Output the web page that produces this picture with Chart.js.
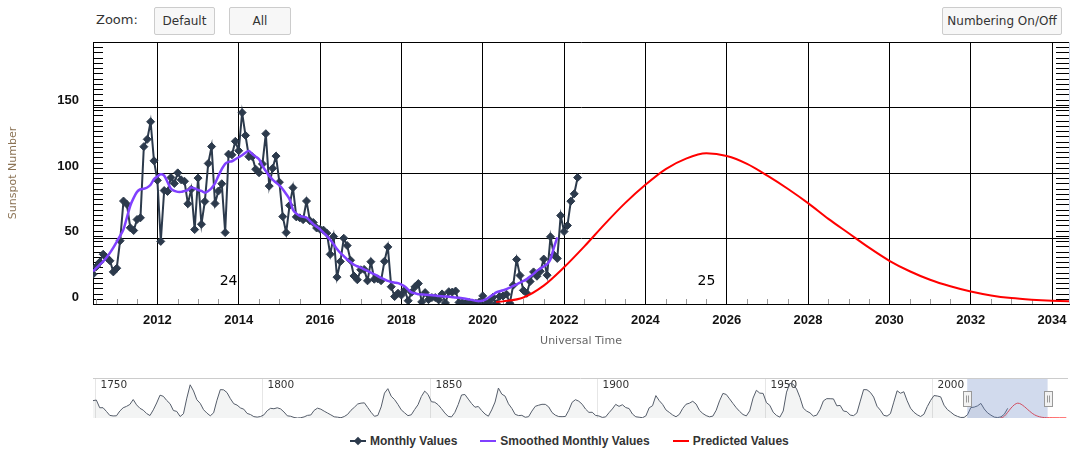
<!DOCTYPE html>
<html>
<head>
<meta charset="utf-8">
<script src="https://cdn.jsdelivr.net/npm/chart.js@4/dist/chart.umd.min.js"></script>
<style>
  body { margin: 0; background: #fff; width: 1081px; height: 452px; overflow: hidden; position: relative; font-family: "DejaVu Sans", sans-serif; }
  canvas { position: absolute; left: 0; }
  #mainChart { top: 0; }
  #navChart { top: 370px; }
  #zoomLabel { position: absolute; left: 96px; top: 12px; font-size: 13px; color: #333; }
  .btn { position: absolute; top: 7px; height: 28px; box-sizing: border-box; background: #f7f7f7; border: 1px solid #cccccc; border-radius: 2px; font-size: 12px; color: #333; display: flex; align-items: center; justify-content: center; }
  #legend { position: absolute; left: 350px; top: 433px; height: 16px; display: flex; align-items: center; font: bold 12px "Liberation Sans", sans-serif; color: #333; }
  #legend .item { display: flex; align-items: center; margin-right: 23px; }
  #legend .sym { position: relative; width: 16px; height: 2px; margin-right: 4px; }
  #legend .dia { position: absolute; left: 5px; top: -2px; width: 6px; height: 6px; transform: rotate(45deg); }
</style>
</head>
<body>
<div id="zoomLabel">Zoom:</div>
<div class="btn" style="left:154px; width:61px;">Default</div>
<div class="btn" style="left:229px; width:62px;">All</div>
<div class="btn" style="left:942px; width:120px;">Numbering On/Off</div>
<canvas id="mainChart" width="1081" height="360"></canvas>
<canvas id="navChart" width="1081" height="52"></canvas>
<div id="legend"></div>
<script>
// ---- data ----
var seriesNames = ['Monthly Values', 'Smoothed Monthly Values', 'Predicted Values'];
var seriesColors = ['#2c3a4c', '#8040ff', '#ff0000'];

// monthly sunspot numbers, Jun 2010 .. May 2022
var monthlyStart = [2010, 6];
var monthlyValues = [
  22.7, 28.5, 32.0, 38.0, 35.5, 33.0, 24.5,
  27.3, 48.3, 78.6, 76.1, 58.2, 56.1, 64.5, 65.8, 120.1, 125.7, 139.1, 109.3,
  94.4, 47.8, 86.6, 85.9, 96.5, 92.0, 100.1, 94.8, 93.7, 76.5, 87.6, 56.8,
  96.1, 60.9, 78.3, 107.3, 120.2, 76.7, 86.2, 91.8, 54.5, 114.4, 113.9, 124.2,
  117.0, 146.1, 128.7, 112.5, 112.5, 102.9, 100.2, 106.9, 130.0, 90.0, 103.6, 112.9,
  93.0, 66.7, 54.5, 75.3, 88.8, 66.5, 65.8, 64.4, 78.6, 63.6, 62.2, 58.0,
  57.0, 56.4, 54.1, 37.9, 51.5, 20.5, 32.4, 50.2, 44.6, 33.4, 21.4, 18.5,
  26.1, 26.4, 17.7, 32.3, 18.9, 19.2, 17.8, 32.6, 43.6, 13.2, 5.7, 8.2,
  6.8, 10.7, 2.5, 8.9, 13.1, 15.6, 1.6, 8.7, 3.3, 4.9, 4.9, 3.1,
  7.7, 0.8, 9.4, 9.1, 9.9, 1.2, 0.9, 0.5, 1.1, 0.4, 0.5, 1.5,
  6.2, 0.2, 1.5, 5.2, 0.2, 5.8, 6.1, 7.5, 0.6, 14.4, 34.0, 21.8,
  10.4, 8.2, 17.2, 24.5, 21.2, 25.0, 34.3, 22.0, 51.3, 37.4, 34.8, 67.5,
  55.3, 59.9, 78.5, 84.1, 96.5
];

// smoothed monthly values, Jun 2010 .. Nov 2021
var smoothedStart = [2010, 6];
var smoothedValues = [
  25, 27.5, 30, 32.5, 35.5, 39, 43,
  47.5, 52, 57, 66, 75, 81, 85.6, 87.6, 88, 88.9, 91, 95.3,
  97.3, 99, 98, 93, 88, 86.3, 85.6, 85.6, 86.3, 87, 89, 88.2,
  87, 86.3, 85, 86.3, 88.5, 92, 97.8, 103, 107, 108.5, 109, 110.5,
  112, 113.5, 115.5, 116.9, 114.5, 112.5, 110.5, 105.5, 101.5, 97.8, 95, 92.7,
  90.5, 87.6, 84, 80, 72, 69, 67.3, 66.6, 66, 63.5, 61, 59,
  57, 54.5, 52, 49, 45.6, 42, 39, 36.5, 34, 32, 30, 28.8,
  27.8, 26.5, 25.3, 24, 22.7, 21.3, 20, 18.8, 17.6, 16.8, 16.3, 15.9,
  14.8, 13.3, 11, 8.8, 8.2, 7.5, 7.3, 7.1, 6.9, 6.7, 6.4, 6.1,
  5.9, 5.7, 5.5, 5.2, 4.9, 4.7, 4.4, 4, 3.5, 3, 2.4, 2.2,
  2.6, 3.7, 5.3, 7, 8.8, 9.7, 10.5, 11.3, 12.5, 13.8, 15, 16.3,
  17.6, 19, 21, 23, 25.3, 27, 28.7, 30.4, 34.2, 43, 50.8
];

// predicted values (half-yearly readings)
var predictedYears = [2020.33, 2020.5, 2021.0, 2021.5, 2022.0, 2022.5, 2023.0, 2023.5, 2024.0, 2024.5,
  2025.0, 2025.5, 2026.0, 2026.5, 2027.0, 2027.5, 2028.0, 2028.5, 2029.0, 2029.5,
  2030.0, 2030.5, 2031.0, 2031.5, 2032.0, 2032.5, 2033.0, 2033.5, 2034.0, 2034.5,
  2035.0, 2036.0, 2038.0, 2040.0];
var predictedValues = [1.5, 2, 5, 14, 28, 44, 61, 77, 91, 103,
  111, 115, 113, 107, 98, 88, 77, 65, 54, 43,
  33, 25, 18.5, 13.5, 9.5, 6.5, 4.5, 3.3, 2.5, 2,
  1.7, 1.4, 1.1, 1.0];

// axes
var xTickYears = [2012, 2014, 2016, 2018, 2020, 2022, 2024, 2026, 2028, 2030, 2032, 2034];
var yTickValues = [0, 50, 100, 150, 200];
var yTickLabels = ['0', '50', '100', '150', ''];
var xRange = [2010 + 5 / 12, 2034 + 5 / 12];
var yRange = [0, 200];

// cycle numbers
var cycleNumbers = ['24', '25'];
var cycleLabelYears = [2013.75, 2025.5];
var cycleLabelLevel = 17;

// navigator: yearly mean sunspot numbers from 1749
var navStartYear = 1749;
var navYearlyValues = [
  134.7, 139.0, 79.5, 79.7, 51.2, 20.3, 16.0, 17.0, 54.0, 79.3, 90.0,
  104.8, 143.2, 102.0, 75.2, 60.7, 34.8, 19.0, 63.0, 116.3, 176.8,
  168.0, 136.0, 110.8, 58.0, 51.0, 11.7, 33.0, 154.2, 257.3, 209.8,
  141.3, 113.5, 64.2, 38.0, 17.0, 40.2, 138.2, 220.0, 218.2, 196.8,
  149.8, 111.0, 100.0, 78.2, 68.3, 35.5, 26.7, 10.7, 6.8, 11.3,
  24.2, 56.7, 75.0, 71.8, 79.2, 70.3, 46.8, 16.8, 13.5, 4.2,
  0.0, 2.3, 8.3, 20.3, 23.2, 59.0, 76.3, 68.3, 52.9, 38.5,
  24.2, 9.2, 6.3, 2.2, 11.4, 28.2, 59.9, 83.0, 108.5, 115.2,
  117.4, 80.8, 44.3, 13.4, 19.5, 85.8, 192.7, 227.3, 168.7, 143.0,
  105.5, 63.3, 40.3, 18.1, 25.1, 65.8, 102.7, 166.3, 208.3, 182.5,
  126.3, 122.0, 103.0, 73.0, 39.0, 12.7, 8.2, 43.4, 104.4, 178.3,
  182.2, 146.6, 112.1, 83.5, 89.3, 57.8, 30.7, 13.9, 62.8, 123.6,
  232.0, 185.3, 169.2, 110.1, 74.5, 28.3, 18.9, 20.7, 5.7, 10.0,
  53.7, 90.5, 99.0, 106.1, 105.8, 86.3, 42.4, 21.8, 11.2, 10.4,
  11.8, 59.5, 121.7, 142.0, 130.0, 106.6, 69.4, 43.8, 44.4, 20.2,
  15.7, 4.6, 8.5, 40.8, 70.1, 105.5, 90.1, 102.8, 80.9, 73.2,
  30.9, 9.5, 6.0, 2.4, 16.1, 79.0, 95.0, 173.6, 134.6, 105.7,
  62.7, 43.5, 23.7, 9.7, 27.9, 73.8, 106.5, 114.7, 129.8, 108.2,
  59.4, 35.1, 18.6, 9.2, 14.6, 60.2, 132.8, 190.6, 182.6, 148.0,
  113.0, 79.2, 50.8, 27.1, 16.1, 55.3, 154.3, 214.7, 193.0, 190.7,
  118.9, 98.3, 45.0, 20.1, 6.6, 54.2, 200.7, 269.3, 261.7, 225.1,
  159.0, 76.4, 53.4, 39.9, 15.0, 22.0, 66.8, 132.9, 150.0, 149.4,
  148.0, 94.4, 97.6, 54.1, 49.2, 22.5, 18.4, 39.3, 131.0, 220.1,
  218.9, 198.9, 162.4, 91.0, 60.5, 20.6, 14.8, 33.9, 123.0, 211.1,
  191.8, 203.3, 133.0, 76.1, 44.9, 25.1, 11.6, 28.9, 88.3, 136.3,
  173.9, 170.4, 163.6, 99.3, 65.3, 45.8, 24.7, 12.6, 4.2, 4.8,
  24.9, 80.8, 84.5, 94.0, 113.3, 69.8, 39.8, 21.7, 7.0, 3.6,
  8.8, 29.6, 75.0
];
var navTickYears = [1750, 1800, 1850, 1900, 1950, 2000];
var navXRange = [1749.5, 2040.5];
var navYRange = [0, 310];

// ---- helpers ----
function monthlyPoints(start, values) {
  return values.map(function(v, i) {
    return { x: start[0] + (start[1] - 1 + i) / 12, y: v };
  });
}
function pairPoints(xs, ys) {
  return xs.map(function(x, i) { return { x: x, y: ys[i] }; });
}

// ---- main chart decorations: minor ticks, right border, cycle numbers ----
var mainDecor = {
  id: 'mainDecor',
  beforeDatasetsDraw: function(chart) {
    var ctx = chart.ctx, a = chart.chartArea, x = chart.scales.x, y = chart.scales.y;
    ctx.save();
    ctx.lineWidth = 1;
    // y minor ticks on both sides
    ctx.strokeStyle = '#000';
    ctx.beginPath();
    for (var v = 4; v < yRange[1]; v += 4) {
      var py = Math.round(y.getPixelForValue(v)) + 0.5;
      ctx.moveTo(a.left, py); ctx.lineTo(a.left + 10, py);
      ctx.moveTo(a.right - 13, py); ctx.lineTo(a.right, py);
    }
    ctx.stroke();
    // x minor ticks every half year
    ctx.strokeStyle = '#999';
    ctx.beginPath();
    for (var yr = 2010.5; yr < xRange[1]; yr += 0.5) {
      if (yr % 2 === 0) continue;
      var px = Math.round(x.getPixelForValue(yr)) + 0.5;
      ctx.moveTo(px, a.bottom); ctx.lineTo(px, a.bottom - 5);
    }
    ctx.stroke();
    // right border
    ctx.strokeStyle = '#ccd6eb';
    ctx.beginPath();
    ctx.moveTo(Math.round(a.right) + 0.5, a.top);
    ctx.lineTo(Math.round(a.right) + 0.5, a.bottom);
    ctx.stroke();
    ctx.restore();
  },
  afterDatasetsDraw: function(chart) {
    var ctx = chart.ctx, x = chart.scales.x, y = chart.scales.y;
    ctx.save();
    ctx.font = '14px "DejaVu Sans"';
    ctx.fillStyle = '#000';
    ctx.textAlign = 'center';
    ctx.textBaseline = 'middle';
    cycleNumbers.forEach(function(t, i) {
      ctx.fillText(t, x.getPixelForValue(cycleLabelYears[i]), y.getPixelForValue(cycleLabelLevel));
    });
    ctx.restore();
  }
};

var mainChart = new Chart(document.getElementById('mainChart'), {
  type: 'line',
  data: {
    datasets: [
      {
        label: seriesNames[0],
        data: monthlyPoints(monthlyStart, monthlyValues),
        borderColor: seriesColors[0],
        backgroundColor: seriesColors[0],
        borderWidth: 2,
        pointStyle: 'rectRot',
        pointRadius: 4,
        pointBorderWidth: 1,
        tension: 0,
        order: 3
      },
      {
        label: seriesNames[1],
        data: monthlyPoints(smoothedStart, smoothedValues),
        borderColor: seriesColors[1],
        borderWidth: 2.5,
        pointRadius: 0,
        tension: 0.3,
        order: 2
      },
      {
        label: seriesNames[2],
        data: pairPoints(predictedYears, predictedValues),
        borderColor: seriesColors[2],
        borderWidth: 2,
        pointRadius: 0,
        cubicInterpolationMode: 'monotone',
        order: 1
      }
    ]
  },
  options: {
    responsive: false,
    animation: false,
    events: [],
    devicePixelRatio: 1,
    layout: { padding: { top: 42, right: 12, left: 0, bottom: 0 } },
    plugins: { legend: { display: false }, tooltip: { enabled: false } },
    scales: {
      x: {
        type: 'linear',
        min: xRange[0],
        max: xRange[1],
        afterBuildTicks: function(scale) {
          scale.ticks = xTickYears.map(function(v) { return { value: v }; });
        },
        afterFit: function(scale) { scale.height = 56; },
        grid: { color: '#000', lineWidth: 1, drawTicks: false },
        border: { color: '#000', width: 1 },
        ticks: {
          padding: 9,
          maxRotation: 0,
          autoSkip: false,
          color: '#111',
          font: { family: 'Liberation Sans', size: 13, weight: 'bold' },
          callback: function(v) { return String(v); }
        },
        title: {
          display: true,
          text: 'Universal Time',
          color: '#666',
          font: { family: 'DejaVu Sans', size: 11 },
          padding: { top: 0, bottom: 12 }
        }
      },
      y: {
        min: yRange[0],
        max: yRange[1],
        afterBuildTicks: function(scale) {
          scale.ticks = yTickValues.map(function(v) { return { value: v }; });
        },
        afterFit: function(scale) { scale.width = 93; },
        grid: { color: '#000', lineWidth: 1, drawTicks: false },
        border: { color: '#000', width: 1 },
        ticks: {
          padding: 14,
          labelOffset: -7,
          color: '#111',
          font: { family: 'Liberation Sans', size: 13, weight: 'bold' },
          callback: function(v) { return yTickLabels[yTickValues.indexOf(v)]; }
        },
        title: {
          display: true,
          text: 'Sunspot Number',
          color: '#8b7355',
          font: { family: 'DejaVu Sans', size: 11 },
          padding: { top: 7, bottom: 0 }
        }
      }
    }
  },
  plugins: [mainDecor]
});

// ---- navigator ----
var navDecor = {
  id: 'navDecor',
  beforeDatasetsDraw: function(chart) {
    var ctx = chart.ctx, a = chart.chartArea, x = chart.scales.x;
    ctx.save();
    ctx.strokeStyle = '#e6e6e6';
    ctx.lineWidth = 1;
    ctx.fillStyle = '#333';
    ctx.font = '10.5px "DejaVu Sans"';
    ctx.textBaseline = 'middle';
    navTickYears.forEach(function(yr) {
      var px = Math.round(x.getPixelForValue(yr)) + 0.5;
      ctx.beginPath(); ctx.moveTo(px, a.top); ctx.lineTo(px, a.bottom); ctx.stroke();
      ctx.fillText(String(yr), px + 5, a.top + 7);
    });
    ctx.restore();
  },
  afterDatasetsDraw: function(chart) {
    var ctx = chart.ctx, a = chart.chartArea, x = chart.scales.x;
    var x0 = x.getPixelForValue(xRange[0]), x1 = x.getPixelForValue(xRange[1]);
    ctx.save();
    ctx.fillStyle = 'rgba(102,133,194,0.3)';
    ctx.fillRect(x0, a.top, x1 - x0, a.bottom - a.top);
    ctx.strokeStyle = '#cccccc';
    ctx.lineWidth = 1;
    ctx.beginPath();
    ctx.moveTo(a.left, a.top + 0.5); ctx.lineTo(a.right, a.top + 0.5);
    ctx.stroke();
    // handles
    var mid = (a.top + a.bottom) / 2;
    [x0, x1].forEach(function(hx) {
      var hl = Math.round(hx - 4) + 0.5, ht = Math.round(mid - 7) + 0.5;
      ctx.fillStyle = '#f2f2f2';
      ctx.strokeStyle = '#999';
      ctx.fillRect(hl, ht, 8, 15);
      ctx.strokeRect(hl, ht, 8, 15);
      ctx.beginPath();
      ctx.moveTo(hl + 3, ht + 4); ctx.lineTo(hl + 3, ht + 11);
      ctx.moveTo(hl + 5, ht + 4); ctx.lineTo(hl + 5, ht + 11);
      ctx.stroke();
    });
    ctx.restore();
  }
};

var navChart = new Chart(document.getElementById('navChart'), {
  type: 'line',
  data: {
    datasets: [
      {
        data: navYearlyValues.map(function(v, i) { return { x: navStartYear + i + 0.5, y: v }; }),
        borderColor: '#555d6a',
        borderWidth: 1,
        backgroundColor: 'rgba(85,93,106,0.07)',
        fill: 'origin',
        pointRadius: 0,
        tension: 0
      },
      {
        data: pairPoints(predictedYears, predictedValues),
        borderColor: '#ff3333',
        borderWidth: 1,
        pointRadius: 0,
        cubicInterpolationMode: 'monotone'
      }
    ]
  },
  options: {
    responsive: false,
    animation: false,
    events: [],
    devicePixelRatio: 1,
    layout: { padding: { left: 93, right: 13, top: 8, bottom: 4 } },
    plugins: { legend: { display: false }, tooltip: { enabled: false } },
    scales: {
      x: { type: 'linear', display: false, min: navXRange[0], max: navXRange[1] },
      y: { display: false, min: navYRange[0], max: navYRange[1] }
    }
  },
  plugins: [navDecor]
});

// ---- legend ----
var legend = document.getElementById('legend');
seriesNames.forEach(function(name, i) {
  var item = document.createElement('div');
  item.className = 'item';
  var sym = document.createElement('span');
  sym.className = 'sym';
  sym.style.background = seriesColors[i];
  if (i === 0) {
    var d = document.createElement('span');
    d.className = 'dia';
    d.style.background = seriesColors[i];
    sym.appendChild(d);
  }
  var t = document.createElement('span');
  t.textContent = name;
  item.appendChild(sym);
  item.appendChild(t);
  legend.appendChild(item);
});
</script>
</body>
</html>
